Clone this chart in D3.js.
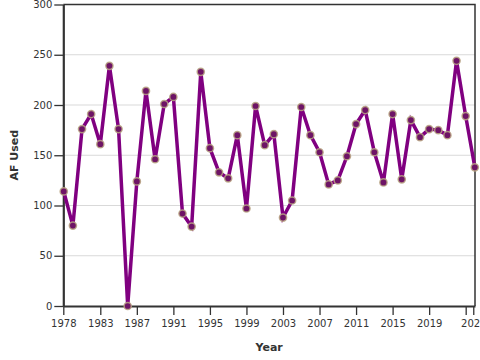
<!DOCTYPE html>
<html>
<head>
<meta charset="utf-8">
<script src="https://cdn.jsdelivr.net/npm/d3@7"></script>
<style>
  html, body { margin: 0; padding: 0; background: #fff; }
  svg { display: block; }
  text { font-family: "DejaVu Sans", sans-serif; }
</style>
</head>
<body>
<svg id="chart" width="480" height="360"></svg>
<script>
const years = [1979,1980,1981,1982,1983,1984,1985,1986,1987,1988,1989,1990,1991,1992,1993,1994,1995,1996,1997,1998,1999,2000,2001,2002,2003,2004,2005,2006,2007,2008,2009,2010,2011,2012,2013,2014,2015,2016,2017,2018,2019,2020,2021,2022,2023,2024];
const afUsed = [114,80,176,191,161,239,176,0,124,214,146,201,208,92,79,233,157,133,127,170,97,199,160,171,88,105,198,170,153,121,125,149,181,195,153,123,191,126,185,168,176,175,170,244,189,138];
const xTickValues = [1978.95,1983,1987,1991,1995,1999,2003,2007,2011,2015,2019,2023,2023.83];
const xTickLabels = ["1978","1983","1987","1991","1995","1999","2003","2007","2011","2015","2019","","2023"];
const yTickValues = [0,50,100,150,200,250,300];

const svg = d3.select("#chart");
const mLeft = 63.3, mRight = 475, mTop = 4.5, mBottom = 306;

const x = d3.scaleLinear().domain([1978.95, 2024.02]).range([mLeft, mRight]);
const y = d3.scaleLinear().domain([0, 300]).range([mBottom, mTop]);

// gridlines
svg.append("g").selectAll("line").data(yTickValues.filter(v => v > 0)).join("line")
  .attr("x1", mLeft).attr("x2", mRight)
  .attr("y1", d => y(d)).attr("y2", d => y(d))
  .attr("stroke", "#d9d9d9").attr("stroke-width", 1);

// frame top/right
svg.append("path")
  .attr("d", `M${mLeft},${mTop}H${mRight}V${mBottom}`)
  .attr("fill", "none").attr("stroke", "#333").attr("stroke-width", 1.5);

// axes
const xAxis = d3.axisBottom(x).tickValues(xTickValues)
  .tickFormat((d, i) => xTickLabels[i]).tickSize(9).tickPadding(5).tickSizeOuter(0);
const gx = svg.append("g").attr("transform", `translate(0,${mBottom})`).call(xAxis);
const yAxis = d3.axisLeft(y).tickValues(yTickValues).tickSize(9).tickPadding(2).tickSizeOuter(0);
const gy = svg.append("g").attr("transform", `translate(${mLeft},0)`).call(yAxis);

[gx, gy].forEach(g => {
  g.select(".domain").attr("stroke", "#333").attr("stroke-width", 2.2);
  g.selectAll(".tick line").attr("stroke", "#333").attr("stroke-width", 1.3);
  g.selectAll(".tick text").attr("fill", "#333").style("font-size", "10px").style("font-family", "DejaVu Sans");
});

// line
const line = d3.line().x((d, i) => x(years[i])).y(d => y(d));
svg.append("path").datum(afUsed)
  .attr("d", line)
  .attr("fill", "none").attr("stroke", "#800080").attr("stroke-width", 3.5)
  .attr("stroke-linejoin", "miter");

// markers
svg.append("g").selectAll("circle").data(afUsed).join("circle")
  .attr("cx", (d, i) => x(years[i])).attr("cy", d => y(d))
  .attr("r", 3.6)
  .attr("fill", "#6e1466")
  .attr("stroke", "#b9a583").attr("stroke-opacity", 0.85).attr("stroke-width", 1.5);

// axis titles
svg.append("text").attr("x", (mLeft + mRight) / 2).attr("y", 351)
  .attr("text-anchor", "middle").attr("font-weight", "bold").attr("font-size", 11)
  .attr("fill", "#333").text("Year");
svg.append("text").attr("transform", `translate(17.5,${(mTop + mBottom) / 2}) rotate(-90)`)
  .attr("text-anchor", "middle").attr("font-weight", "bold").attr("font-size", 11)
  .attr("fill", "#333").text("AF Used");
</script>
</body>
</html>
